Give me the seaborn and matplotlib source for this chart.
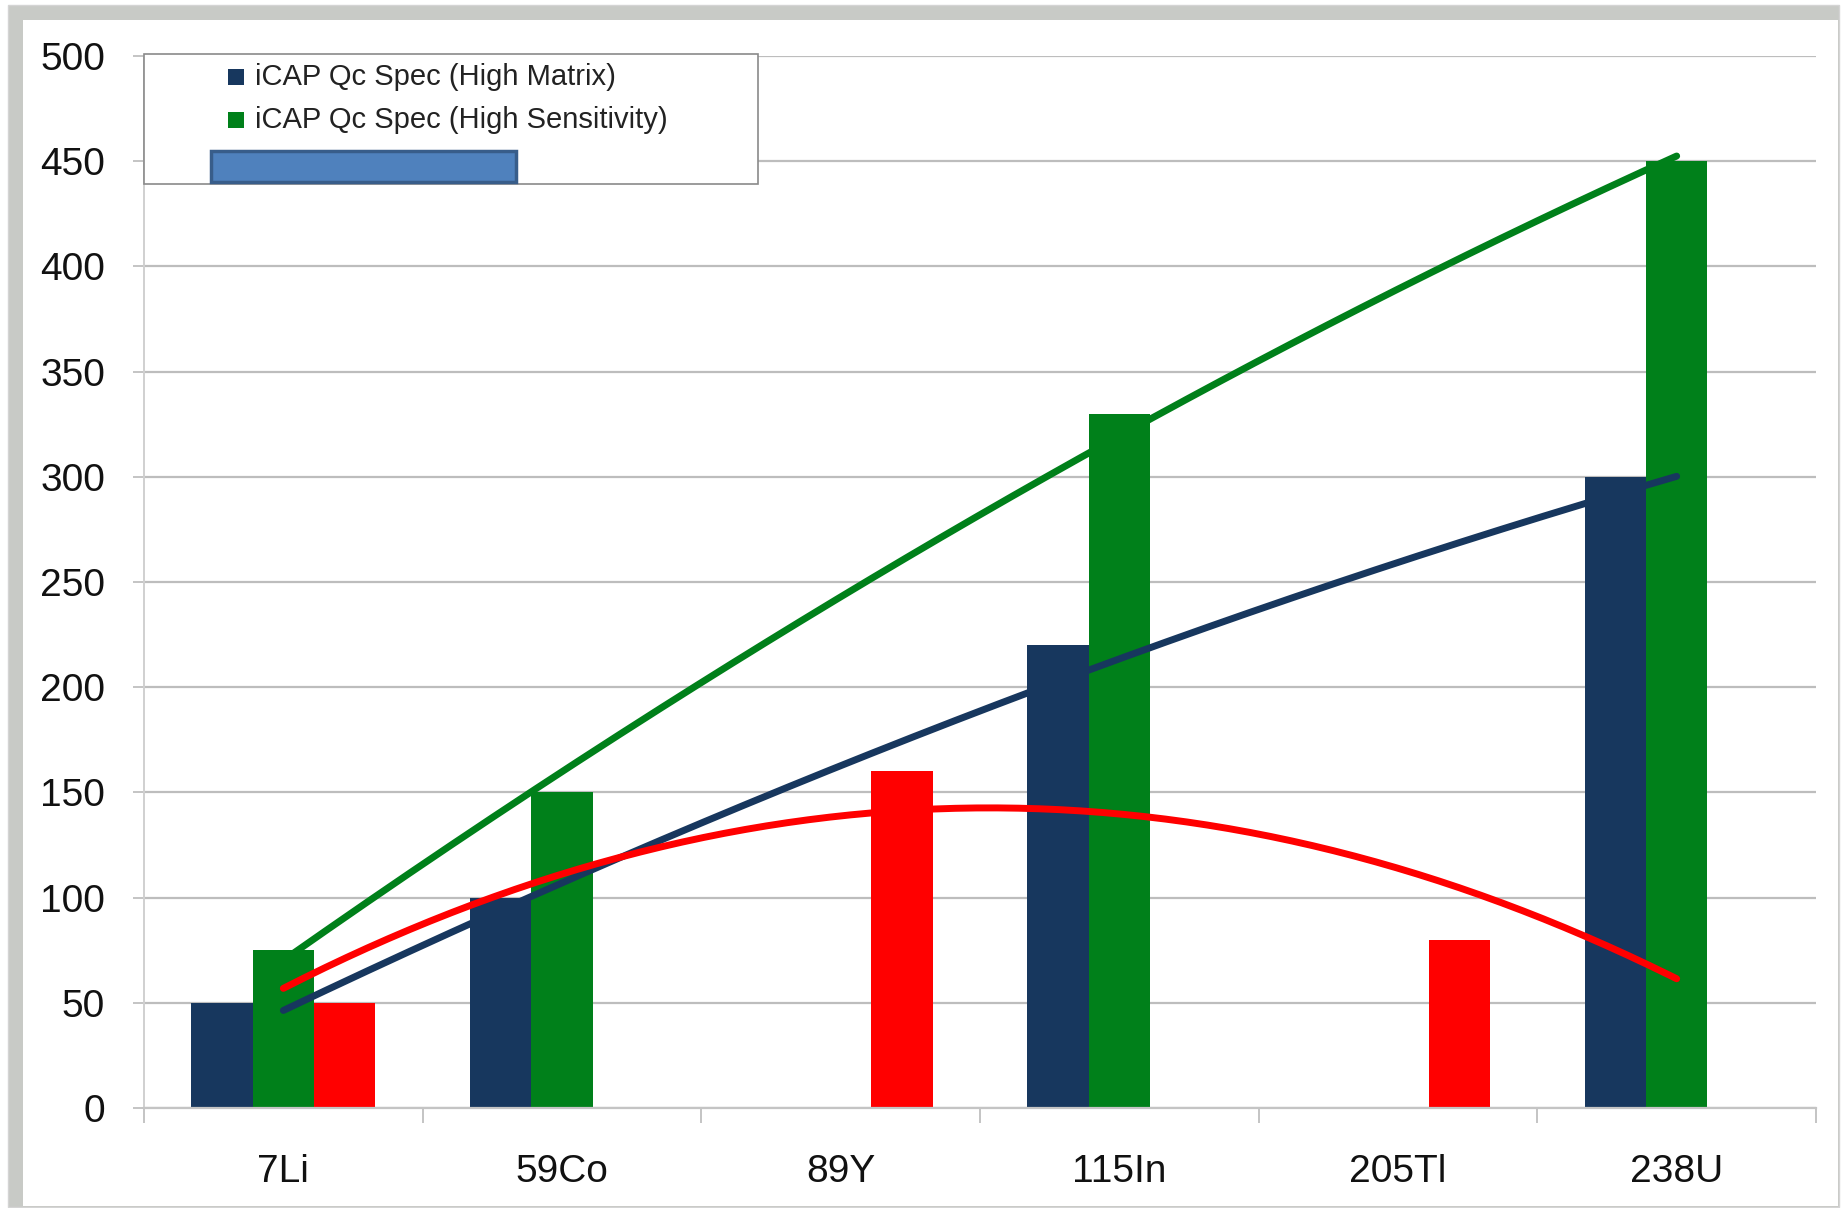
import numpy as np
import pandas as pd
import matplotlib
matplotlib.use("Agg")
import matplotlib.pyplot as plt
from matplotlib.patches import Rectangle
import seaborn as sns

# chart values
isotopes = ["7Li", "59Co", "89Y", "115In", "205Tl", "238U"]
series_names = ["iCAP Qc Spec (High Matrix)", "iCAP Qc Spec (High Sensitivity)", ""]
high_matrix = [50, 100, 0, 220, 0, 300]
high_sensitivity = [75, 150, 0, 330, 0, 450]
third_series = [50, 0, 160, 0, 80, 0]

# trendline readings at each isotope position (fitted as 2nd order polynomials)
trend_matrix = [46, 107, 164, 213, 258, 301]
trend_sensitivity = [73, 154, 244, 323, 388, 452]
trend_third = [56, 113, 138, 140, 113, 62]

yticks = [0, 50, 100, 150, 200, 250, 300, 350, 400, 450, 500]

colors = ["#17375e", "#00801a", "#ff0000"]

df = pd.DataFrame({
    "isotope": isotopes * 3,
    "series": [series_names[0]] * 6 + [series_names[1]] * 6 + ["third"] * 6,
    "value": high_matrix + high_sensitivity + third_series,
})

sns.set_theme(style="white")
plt.rcParams["font.family"] = ["Liberation Sans", "DejaVu Sans"]

W, H = 1841, 1208
fig = plt.figure(figsize=(W / 100, H / 100), dpi=100)
fig.patch.set_facecolor("white")

def fx(x):
    return x / W

def fy(y):
    return 1 - y / H

# outer frame of the screenshot
fig.patches.append(Rectangle((fx(8), fy(1207)), fx(1839) - fx(8), fy(5) - fy(1207),
                             transform=fig.transFigure, facecolor="#c8cac6",
                             edgecolor="#d4d4d4", lw=1, zorder=-3))
fig.patches.append(Rectangle((fx(23), fy(1206)), fx(1838) - fx(23), fy(20) - fy(1206),
                             transform=fig.transFigure, facecolor="white",
                             edgecolor="none", zorder=-2))

ax = fig.add_axes([fx(144), fy(1108), fx(1816) - fx(144), fy(56) - fy(1108)])
ax.set_facecolor("none")
ax.set_zorder(1)

sns.barplot(data=df, x="isotope", y="value", hue="series", order=isotopes,
            palette=colors, width=0.66, gap=0, linewidth=0, saturation=1,
            legend=False, ax=ax, zorder=2)

# polynomial trendlines
xs = np.linspace(0, 5, 200)
xpos = np.arange(len(isotopes))
for vals, c in [(trend_matrix, colors[0]), (trend_sensitivity, colors[1]), (trend_third, colors[2])]:
    coef = np.polyfit(xpos, vals, 2)
    sns.lineplot(x=xs, y=np.polyval(coef, xs), color=c, lw=5, ax=ax, zorder=3,
                 solid_capstyle="round")

ax.set_xlim(-0.5, 5.5)
ax.set_ylim(0, 500)
ax.set_yticks(yticks)
ax.set_yticklabels([str(v) for v in yticks], fontsize=28, color="#111111")
ax.yaxis.grid(True, color="#bdbdbd", lw=1.6, zorder=0)
ax.set_axisbelow(True)
ax.set_xlabel("")
ax.set_ylabel("")

ax.set_xticks(xpos)
ax.set_xticklabels(isotopes, fontsize=28, color="#111111")
ax.tick_params(axis="x", which="major", length=0, pad=33)
ax.set_xticks(np.arange(-0.5, 6, 1), minor=True)
ax.tick_params(axis="x", which="minor", length=11, color="#c4c4c4", width=1.4, bottom=True)
ax.tick_params(axis="y", length=8, color="#c4c4c4", width=1.4, pad=20, left=True)

for s in ["top", "right"]:
    ax.spines[s].set_visible(False)
ax.spines["left"].set_color("#d0d0d0")
ax.spines["left"].set_linewidth(1.4)
ax.spines["bottom"].set_color("#c4c4c4")
ax.spines["bottom"].set_linewidth(1.6)

# legend box drawn by hand to match the reference layout
fig.patches.append(Rectangle((fx(144), fy(184)), fx(758) - fx(144), fy(54) - fy(184),
                             transform=fig.transFigure, facecolor="white",
                             edgecolor="#8a8a8a", lw=1.2, zorder=5))
for i, name in enumerate(series_names[:2]):
    yc = 77 + i * 43
    fig.patches.append(Rectangle((fx(228), fy(yc + 8)), fx(16), 16 / H,
                                 transform=fig.transFigure, facecolor=colors[i],
                                 edgecolor="none", zorder=6))
    fig.text(fx(255), fy(yc), name, fontsize=21, color="#222222",
             va="center", ha="left", zorder=6)
fig.patches.append(Rectangle((fx(211), fy(182)), fx(516) - fx(211), fy(151) - fy(182),
                             transform=fig.transFigure, facecolor="#4f81bd",
                             edgecolor="#385d8a", lw=2.5, zorder=6))

fig.savefig("out.png", dpi=100)
